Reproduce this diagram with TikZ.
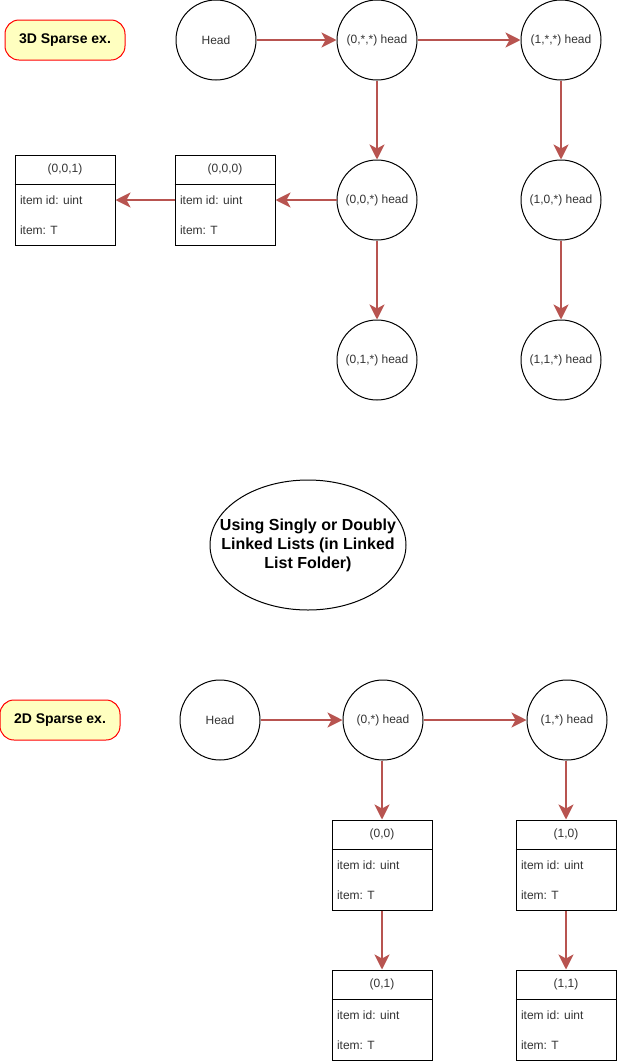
\documentclass[tikz,border=0pt]{standalone}
\usepackage{fontspec}
\setmainfont{Liberation Sans}
\usetikzlibrary{arrows.meta,shapes.geometric}
\definecolor{linkred}{HTML}{B85450}
\definecolor{notefill}{HTML}{FFFFC0}
\definecolor{txtgray}{HTML}{333333}
\tikzset{
  txt/.style={font=\fontsize{12}{14}\selectfont,text=txtgray,inner sep=0pt},
  note/.style={draw=red,fill=notefill,rounded corners=14pt,minimum width=120pt,minimum height=40pt,font=\fontsize{14}{16}\selectfont\bfseries},
  hd/.style={circle,draw,minimum size=80pt,inner sep=0pt,txt},
  rec/.style={draw,minimum width=100pt,minimum height=90pt,inner sep=0pt},
  link/.style={-{Stealth[length=15pt,width=15pt,inset=4pt]},draw=linkred,line width=2.5pt},
}
% box with a title row and two fields
\newcommand{\recbox}[4]{%
  \node (#1) at (#2,#3) [rec] {};
  \draw ([yshift=-30pt]#1.north west) -- ([yshift=-30pt]#1.north east);
  \node (#1-t) at ([yshift=-15pt]#1.north) [txt] {#4};
  \node (#1-id) at ([xshift=5pt]#1.west) [txt,anchor=west] {item id: uint};
  \node (#1-it) at ([xshift=5pt,yshift=-30pt]#1.west) [txt,anchor=west] {item: T};
}
\begin{document}
\begin{tikzpicture}[x=1pt,y=-1pt,line width=1pt]
    \useasboundingbox (0,0) rectangle (617,1061);
    % 3D example
    \node (note3) at (65,40) [note] {3D Sparse ex.};
    \node (head3) at (216,40) [hd] {Head};
    \node (n0ss) at (377,40) [hd] {(0,*,*) head};
    \node (n1ss) at (561,40) [hd] {(1,*,*) head};
    \node (n00s) at (377,200) [hd] {(0,0,*) head};
    \node (n10s) at (561,200) [hd] {(1,0,*) head};
    \node (n01s) at (377,360) [hd] {(0,1,*) head};
    \node (n11s) at (561,360) [hd] {(1,1,*) head};
    \recbox{b000}{225}{200}{(0,0,0)}
    \recbox{b001}{65}{200}{(0,0,1)}
    \draw[link] (head3) to (n0ss);
    \draw[link] (n0ss) to (n1ss);
    \draw[link] (n0ss) to (n00s);
    \draw[link] (n00s) to (n01s);
    \draw[link] (n1ss) to (n10s);
    \draw[link] (n10s) to (n11s);
    \draw[link] (n00s) to (b000);
    \draw[link] (b000) to (b001);
    % middle remark
    \node (remark) at (308,545) [ellipse,draw,minimum width=196pt,minimum height=130pt,inner sep=0pt] {};
    \node (remark-t) at (remark) [align=center,inner sep=0pt,
        font=\fontsize{16}{19}\selectfont\bfseries] {Using Singly or Doubly\\Linked Lists (in Linked\\List Folder)};
    % 2D example
    \node (note2) at (60,720) [note] {2D Sparse ex.};
    \node (head2) at (220,720) [hd] {Head};
    \node (n0s) at (383,720) [hd] {(0,*) head};
    \node (n1s) at (567,720) [hd] {(1,*) head};
    \recbox{b00}{382}{865}{(0,0)}
    \recbox{b10}{566}{865}{(1,0)}
    \recbox{b01}{382}{1015}{(0,1)}
    \recbox{b11}{566}{1015}{(1,1)}
    \draw[link] (head2) to (n0s);
    \draw[link] (n0s) to (n1s);
    \draw[link] (n0s.south -| b00) to (b00);
    \draw[link] (n1s.south -| b10) to (b10);
    \draw[link] (b00) to (b01);
    \draw[link] (b10) to (b11);
\end{tikzpicture}
\end{document}
